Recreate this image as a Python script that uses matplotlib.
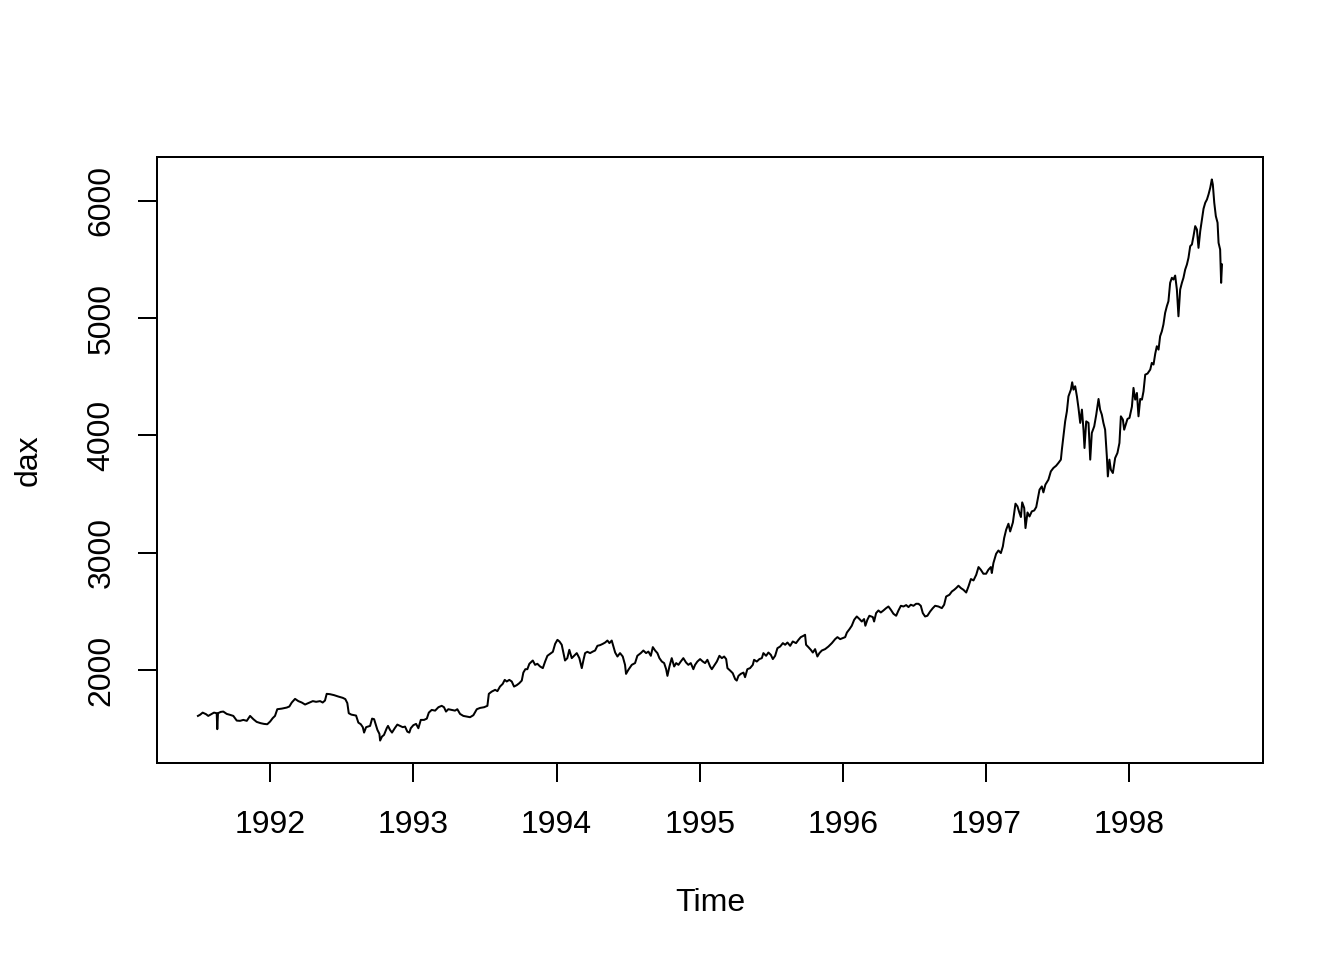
import matplotlib
matplotlib.use("Agg")
import matplotlib.pyplot as plt

# DAX closing index
time = [
    1991.496, 1991.510, 1991.529, 1991.552, 1991.568, 1991.592, 1991.608, 1991.627, 1991.631, 1991.636,
    1991.655, 1991.673, 1991.697, 1991.720, 1991.743, 1991.767, 1991.790, 1991.813, 1991.837, 1991.860,
    1991.883, 1991.906, 1991.934, 1991.957, 1991.980, 1992.000, 1992.018, 1992.034, 1992.050, 1992.081,
    1992.116, 1992.134, 1992.151, 1992.174, 1992.197, 1992.221, 1992.244, 1992.267, 1992.298, 1992.321,
    1992.349, 1992.367, 1992.383, 1992.395, 1992.418, 1992.446, 1992.476, 1992.507, 1992.525, 1992.539,
    1992.549, 1992.567, 1992.600, 1992.616, 1992.633, 1992.647, 1992.656, 1992.670, 1992.698, 1992.712,
    1992.726, 1992.740, 1992.749, 1992.763, 1992.768, 1992.781, 1992.795, 1992.814, 1992.823, 1992.837,
    1992.851, 1992.870, 1992.888, 1992.907, 1992.926, 1992.942, 1992.958, 1992.972, 1992.982, 1993.000,
    1993.019, 1993.035, 1993.052, 1993.075, 1993.094, 1993.108, 1993.128, 1993.152, 1993.175, 1993.198,
    1993.214, 1993.228, 1993.244, 1993.268, 1993.291, 1993.307, 1993.326, 1993.349, 1993.373, 1993.396,
    1993.419, 1993.443, 1993.466, 1993.494, 1993.517, 1993.527, 1993.547, 1993.571, 1993.587, 1993.605,
    1993.624, 1993.638, 1993.652, 1993.670, 1993.687, 1993.703, 1993.722, 1993.740, 1993.757, 1993.768,
    1993.782, 1993.796, 1993.810, 1993.834, 1993.850, 1993.866, 1993.885, 1993.904, 1993.920, 1993.936,
    1993.955, 1993.974, 1993.990, 1994.006, 1994.020, 1994.036, 1994.048, 1994.059, 1994.075, 1994.089,
    1994.106, 1994.122, 1994.141, 1994.159, 1994.176, 1994.187, 1994.199, 1994.215, 1994.234, 1994.253,
    1994.269, 1994.285, 1994.304, 1994.323, 1994.339, 1994.355, 1994.369, 1994.385, 1994.397, 1994.409,
    1994.425, 1994.443, 1994.462, 1994.478, 1994.485, 1994.501, 1994.525, 1994.548, 1994.564, 1994.588,
    1994.606, 1994.625, 1994.641, 1994.658, 1994.672, 1994.688, 1994.704, 1994.718, 1994.735, 1994.751,
    1994.765, 1994.774, 1994.788, 1994.804, 1994.821, 1994.835, 1994.851, 1994.867, 1994.885, 1994.904,
    1994.920, 1994.937, 1994.955, 1994.967, 1994.983, 1995.002, 1995.021, 1995.037, 1995.053, 1995.072,
    1995.084, 1995.100, 1995.119, 1995.137, 1995.154, 1995.170, 1995.184, 1995.193, 1995.212, 1995.230,
    1995.247, 1995.258, 1995.270, 1995.286, 1995.305, 1995.316, 1995.332, 1995.351, 1995.370, 1995.379,
    1995.398, 1995.416, 1995.433, 1995.444, 1995.463, 1995.479, 1995.496, 1995.510, 1995.526, 1995.542,
    1995.561, 1995.580, 1995.596, 1995.612, 1995.631, 1995.649, 1995.672, 1995.689, 1995.705, 1995.723,
    1995.735, 1995.742, 1995.758, 1995.775, 1995.789, 1995.805, 1995.821, 1995.835, 1995.852, 1995.875,
    1995.898, 1995.922, 1995.945, 1995.961, 1995.980, 1995.999, 1996.015, 1996.027, 1996.045, 1996.061,
    1996.078, 1996.096, 1996.115, 1996.131, 1996.147, 1996.156, 1996.170, 1996.184, 1996.208, 1996.217,
    1996.231, 1996.247, 1996.264, 1996.282, 1996.301, 1996.317, 1996.334, 1996.352, 1996.371, 1996.387,
    1996.404, 1996.422, 1996.441, 1996.457, 1996.473, 1996.492, 1996.510, 1996.527, 1996.543, 1996.557,
    1996.573, 1996.589, 1996.608, 1996.627, 1996.643, 1996.666, 1996.690, 1996.706, 1996.720, 1996.743,
    1996.760, 1996.776, 1996.790, 1996.806, 1996.823, 1996.841, 1996.860, 1996.876, 1996.893, 1996.911,
    1996.930, 1996.946, 1996.962, 1996.980, 1996.999, 1997.015, 1997.032, 1997.039, 1997.050, 1997.069,
    1997.085, 1997.102, 1997.116, 1997.125, 1997.139, 1997.155, 1997.167, 1997.186, 1997.195, 1997.204,
    1997.218, 1997.232, 1997.242, 1997.251, 1997.265, 1997.274, 1997.288, 1997.302, 1997.318, 1997.335,
    1997.349, 1997.372, 1997.388, 1997.399, 1997.413, 1997.434, 1997.451, 1997.469, 1997.488, 1997.504,
    1997.521, 1997.528, 1997.539, 1997.551, 1997.563, 1997.574, 1997.591, 1997.600, 1997.609, 1997.621,
    1997.633, 1997.644, 1997.656, 1997.668, 1997.679, 1997.686, 1997.698, 1997.714, 1997.726, 1997.737,
    1997.754, 1997.768, 1997.784, 1997.795, 1997.807, 1997.818, 1997.830, 1997.842, 1997.849, 1997.860,
    1997.870, 1997.884, 1997.900, 1997.916, 1997.930, 1997.940, 1997.954, 1997.963, 1997.977, 1997.986,
    1998.000, 1998.017, 1998.028, 1998.040, 1998.052, 1998.063, 1998.075, 1998.087, 1998.098, 1998.110,
    1998.126, 1998.145, 1998.156, 1998.168, 1998.180, 1998.191, 1998.203, 1998.214, 1998.226, 1998.237,
    1998.249, 1998.261, 1998.272, 1998.284, 1998.296, 1998.307, 1998.319, 1998.331, 1998.342, 1998.354,
    1998.366, 1998.377, 1998.389, 1998.401, 1998.412, 1998.424, 1998.436, 1998.447, 1998.459, 1998.471,
    1998.482, 1998.494, 1998.506, 1998.517, 1998.529, 1998.541, 1998.552, 1998.564, 1998.575, 1998.582,
    1998.592, 1998.603, 1998.615, 1998.622, 1998.633, 1998.640, 1998.646,
]

dax = [
    1611, 1620, 1639, 1626, 1611, 1628, 1639, 1634, 1498, 1634,
    1645, 1648, 1628, 1620, 1611, 1571, 1569, 1577, 1569, 1611,
    1583, 1560, 1549, 1543, 1540, 1563, 1592, 1611, 1668, 1673,
    1682, 1691, 1725, 1756, 1737, 1725, 1708, 1720, 1737, 1731,
    1737, 1725, 1742, 1799, 1796, 1788, 1776, 1765, 1754, 1720,
    1634, 1622, 1614, 1554, 1540, 1515, 1469, 1515, 1526, 1588,
    1583, 1526, 1492, 1458, 1401, 1435, 1449, 1506, 1526, 1492,
    1469, 1506, 1537, 1526, 1515, 1520, 1477, 1469, 1506, 1532,
    1543, 1506, 1577, 1577, 1588, 1639, 1662, 1656, 1685, 1697,
    1685, 1648, 1668, 1662, 1656, 1668, 1628, 1611, 1605, 1600,
    1617, 1668, 1679, 1685, 1697, 1799, 1818, 1833, 1822, 1861,
    1884, 1918, 1904, 1918, 1904, 1861, 1873, 1890, 1912, 1980,
    2009, 2009, 2055, 2083, 2046, 2055, 2032, 2018, 2074, 2123,
    2140, 2157, 2225, 2259, 2245, 2217, 2146, 2083, 2103, 2174,
    2103, 2123, 2146, 2103, 2018, 2083, 2146, 2157, 2146, 2159,
    2168, 2208, 2214, 2225, 2236, 2253, 2231, 2253, 2202, 2151,
    2117, 2146, 2117, 2046, 1969, 2003, 2046, 2061, 2123, 2146,
    2168, 2146, 2159, 2123, 2197, 2168, 2146, 2103, 2074, 2061,
    2009, 1952, 2032, 2103, 2032, 2061, 2046, 2074, 2103, 2066,
    2046, 2061, 2009, 2046, 2074, 2095, 2074, 2061, 2089, 2032,
    2009, 2038, 2074, 2123, 2103, 2117, 2095, 2018, 1997, 1975,
    1924, 1912, 1952, 1969, 1980, 1941, 2009, 2018, 2046, 2089,
    2074, 2095, 2103, 2146, 2123, 2151, 2131, 2095, 2123, 2188,
    2202, 2231, 2217, 2236, 2208, 2245, 2231, 2259, 2282, 2293,
    2302, 2217, 2197, 2174, 2151, 2180, 2117, 2146, 2168, 2180,
    2202, 2231, 2265, 2282, 2265, 2274, 2282, 2321, 2350, 2379,
    2430, 2458, 2436, 2415, 2436, 2379, 2430, 2464, 2453, 2415,
    2487, 2509, 2492, 2509, 2529, 2543, 2515, 2481, 2464, 2509,
    2549, 2543, 2555, 2538, 2558, 2549, 2566, 2566, 2549, 2487,
    2458, 2464, 2500, 2529, 2549, 2543, 2529, 2558, 2628, 2643,
    2671, 2685, 2700, 2720, 2700, 2685, 2662, 2714, 2777, 2765,
    2813, 2879, 2856, 2822, 2822, 2856, 2879, 2828, 2913, 2992,
    3020, 2998, 3055, 3126, 3197, 3248, 3182, 3259, 3339, 3419,
    3396, 3339, 3305, 3430, 3382, 3211, 3344, 3310, 3353, 3361,
    3390, 3538, 3566, 3515, 3581, 3623, 3694, 3723, 3742, 3766,
    3794, 3879, 3992, 4120, 4205, 4333, 4390, 4453, 4390, 4419,
    4333, 4234, 4107, 4220, 4049, 3893, 4120, 4107, 3794, 4021,
    4078, 4177, 4311, 4220, 4177, 4107, 4049, 3822, 3651, 3794,
    3708, 3680, 3808, 3851, 3936, 4163, 4135, 4049, 4107, 4141,
    4149, 4245, 4405, 4305, 4362, 4163, 4311, 4305, 4376, 4518,
    4527, 4561, 4618, 4604, 4697, 4760, 4731, 4845, 4887, 4945,
    5044, 5101, 5143, 5300, 5343, 5328, 5362, 5243, 5015, 5243,
    5300, 5343, 5413, 5456, 5513, 5612, 5627, 5697, 5783, 5754,
    5598, 5740, 5840, 5931, 5982, 6010, 6053, 6110, 6181, 6138,
    5982, 5868, 5812, 5641, 5584, 5300, 5456,
]

year_ticks = [1992, 1993, 1994, 1995, 1996, 1997, 1998]
value_ticks = [2000, 3000, 4000, 5000, 6000]

plt.rcParams['font.family'] = ['Liberation Sans', 'DejaVu Sans']

fig = plt.figure(figsize=(7, 5))
ax = fig.add_axes([0.1168, 0.2052, 0.8229, 0.6313])

ax.plot(time, dax, color='black', linewidth=0.75)
ax.margins(x=0.04, y=0.04)

ax.set_xticks(year_ticks)
ax.set_yticks(value_ticks)
ax.tick_params(direction='out', length=7.2, width=0.75, labelsize=12, pad=10.5)
ax.tick_params(axis='y', labelrotation=90, pad=8)
for lab in ax.get_yticklabels():
    lab.set_va('center')

for side in ax.spines.values():
    side.set_linewidth(0.75)

ax.set_xlabel('Time', fontsize=12, labelpad=18)
ax.set_ylabel('dax', fontsize=12, labelpad=16)

fig.savefig('out.png', dpi=192)
